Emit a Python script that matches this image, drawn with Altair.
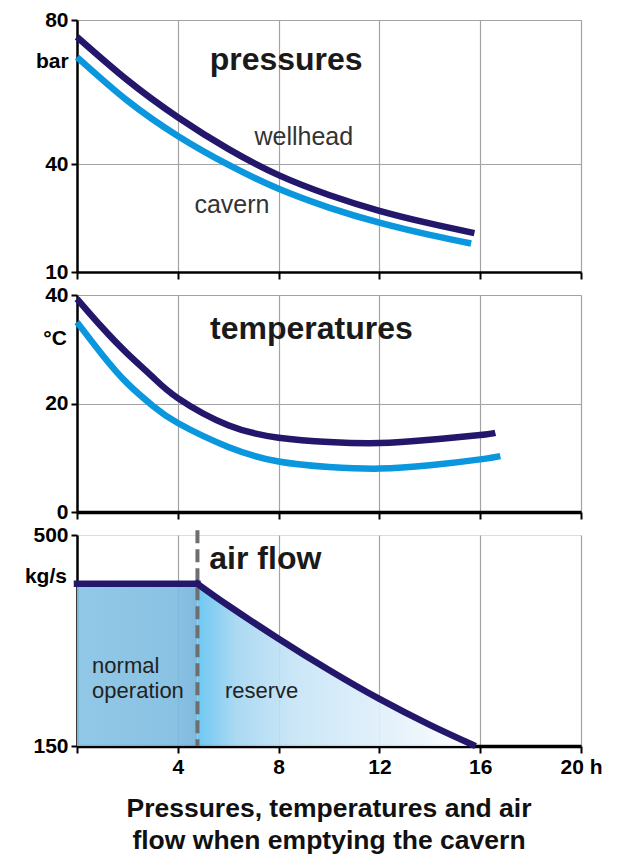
import altair as alt
import pandas as pd

FONT = "Liberation Sans"
DARK = "#23176b"
LIGHT = "#0b97dd"

# ---- pressures (bar) ----
p_hours_well = [0, 2, 4, 6, 8, 10, 12, 14, 15.77]
p_well = [75.3, 63.3, 53.0, 44.2, 36.9, 31.4, 27.0, 23.5, 20.8]
p_hours_cav = [0, 2, 4, 6, 8, 10, 12, 14, 15.64]
p_cav = [69.7, 57.6, 47.8, 39.8, 33.1, 27.9, 23.7, 20.3, 17.9]

# ---- temperatures (°C) ----
t_hours_well = [0, 1, 2, 3, 4, 6, 8, 10, 12, 14, 16, 16.6]
t_well = [39.3, 34.0, 29.2, 24.9, 21.0, 16.0, 13.7, 12.9, 12.7, 13.3, 14.2, 14.6]
t_hours_cav = [0, 1, 2, 3, 4, 6, 8, 10, 12, 14, 16, 16.8]
t_cav = [35.0, 29.0, 23.7, 19.6, 16.4, 12.0, 9.3, 8.3, 8.0, 8.6, 9.7, 10.3]

# ---- air flow (kg/s) ----
f_hours = [0, 4.78, 6, 8, 10, 12, 14, 15.7]
f_flow = [419, 419, 383, 328, 276, 228, 185, 152]
switch_hour = 4.78

x_ticks = [0, 4, 8, 12, 16, 20]
p_ticks = [10, 40, 80]
t_ticks = [0, 20, 40]
f_ticks = [150, 500]

caption = ["Pressures, temperatures and air", "flow when emptying the cavern"]

W = 504


def x_axis(labels, dw):
    return alt.Axis(values=x_ticks, labels=labels,
                    labelExpr="datum.value == 0 ? '' : (datum.value == 20 ? '20 h' : datum.label)",
                    labelFontSize=21, labelFontWeight="bold", labelColor="black", labelFont=FONT,
                    labelFlush=False, labelPadding=3, tickSize=7, tickWidth=2, tickColor="black",
                    domainColor="black", domainWidth=dw, grid=True, gridColor="#a3a3a3",
                    gridWidth=1.2, title=None)


def y_axis(vals, grid):
    return alt.Axis(values=vals, labelFontSize=21, labelFontWeight="bold", labelColor="black",
                    labelFont=FONT, labelPadding=3, tickSize=6, tickWidth=2, tickColor="black",
                    domainColor="black", domainWidth=2.5, grid=grid, gridColor="#a3a3a3",
                    gridWidth=1.2, title=None, minExtent=68, maxExtent=68)


xs = alt.Scale(domain=[0, 20], nice=False, zero=False)


def lines_df(h1, v1, h2, v2, n1, n2):
    return pd.DataFrame({"h": h1 + h2, "v": v1 + v2,
                         "s": [n1] * len(h1) + [n2] * len(h2)})


def text_layer(df, size, weight, color, align="center"):
    return alt.Chart(df).mark_text(fontSize=size, fontWeight=weight, color=color, font=FONT,
                                   align=align, baseline="middle").encode(
        x=alt.X("x:Q", scale=xs), y="y:Q", text="t:N")


# ---------- panel 1 ----------
ys1 = alt.Scale(domain=[10, 80], nice=False, zero=False)
d1 = lines_df(p_hours_well, p_well, p_hours_cav, p_cav, "wellhead", "cavern")
l1 = alt.Chart(d1).mark_line(strokeWidth=6.5, interpolate="natural", strokeCap="butt").encode(
    x=alt.X("h:Q", scale=xs, axis=x_axis(False, 2.5)),
    y=alt.Y("v:Q", scale=ys1, axis=y_axis(p_ticks, True)),
    color=alt.Color("s:N", scale=alt.Scale(domain=["wellhead", "cavern"], range=[DARK, LIGHT]),
                    legend=None))
t1a = text_layer(pd.DataFrame({"x": [8.3], "y": [68.9], "t": ["pressures"]}), 32, "bold", "#1a1a1a")
t1b = text_layer(pd.DataFrame({"x": [9.0, 6.15], "y": [47.5, 28.6], "t": ["wellhead", "cavern"]}),
                 25, "normal", "#333333")
t1c = text_layer(pd.DataFrame({"x": [-0.33], "y": [68.3], "t": ["bar"]}), 21, "bold", "black", "right")
panel1 = alt.layer(l1, t1a, t1b, t1c).properties(width=W, height=252)

# ---------- panel 2 ----------
ys2 = alt.Scale(domain=[0, 40], nice=False, zero=False)
d2 = lines_df(t_hours_well, t_well, t_hours_cav, t_cav, "wellhead", "cavern")
l2 = alt.Chart(d2).mark_line(strokeWidth=6.5, interpolate="natural", strokeCap="butt").encode(
    x=alt.X("h:Q", scale=xs, axis=x_axis(False, 3.5)),
    y=alt.Y("v:Q", scale=ys2, axis=y_axis(t_ticks, True)),
    color=alt.Color("s:N", scale=alt.Scale(domain=["wellhead", "cavern"], range=[DARK, LIGHT]),
                    legend=None))
t2a = text_layer(pd.DataFrame({"x": [9.3], "y": [33.7], "t": ["temperatures"]}), 32, "bold", "#1a1a1a")
t2c = text_layer(pd.DataFrame({"x": [-0.4], "y": [31.9], "t": ["°C"]}), 21, "bold", "black", "right")
panel2 = alt.layer(l2, t2a, t2c).properties(width=W, height=217)

# ---------- panel 3 ----------
ys3 = alt.Scale(domain=[150, 500], nice=False, zero=False)
n_norm = 2
df_norm = pd.DataFrame({"h": f_hours[:n_norm], "v": f_flow[:n_norm]})
df_res = pd.DataFrame({"h": f_hours[n_norm - 1:], "v": f_flow[n_norm - 1:]})
df_flow = pd.DataFrame({"h": f_hours[:n_norm] + f_hours[n_norm - 1:],
                        "v": f_flow[:n_norm] + f_flow[n_norm - 1:],
                        "s": ["normal"] * n_norm + ["reserve"] * (len(f_hours) - n_norm + 1)})

grad_norm = {"gradient": "linear", "x1": 0, "x2": 1, "y1": 0, "y2": 0,
             "stops": [{"offset": 0, "color": "#88c3e5"}, {"offset": 0.8, "color": "#80bde1"},
                       {"offset": 1, "color": "#74b3da"}]}
grad_res = {"gradient": "linear", "x1": 0, "x2": 1, "y1": 0, "y2": 0,
            "stops": [{"offset": 0, "color": "#62c3f0"}, {"offset": 0.14, "color": "#a4d6f2"},
                      {"offset": 0.35, "color": "#c6e4f6"}, {"offset": 0.75, "color": "#e6f2fb"},
                      {"offset": 1, "color": "#ffffff"}]}

a_norm = alt.Chart(df_norm).mark_area(color=grad_norm, opacity=0.92).encode(
    x=alt.X("h:Q", scale=xs, axis=x_axis(True, 3.5)),
    y=alt.Y("v:Q", scale=ys3, axis=y_axis(f_ticks, False)),
    y2=alt.datum(150))
a_res = alt.Chart(df_res).mark_area(color=grad_res, opacity=0.92, interpolate="natural").encode(
    x=alt.X("h:Q", scale=xs), y=alt.Y("v:Q", scale=ys3), y2=alt.datum(150))
l3 = alt.Chart(df_flow).mark_line(strokeWidth=6.5, color=DARK, interpolate="natural",
                                  strokeCap="square").encode(
    x=alt.X("h:Q", scale=xs), y=alt.Y("v:Q", scale=ys3), detail="s:N")
dash = alt.Chart(pd.DataFrame({"h": [switch_hour]})).mark_rule(
    color="#6e6e6e", strokeWidth=4, strokeDash=[13, 6]).encode(
    x=alt.X("h:Q", scale=xs), y=alt.datum(508), y2=alt.datum(150))
t3a = text_layer(pd.DataFrame({"x": [5.25], "y": [461], "t": ["air flow"]}), 32, "bold", "#1a1a1a", "left")
t3b = text_layer(pd.DataFrame({"x": [0.6, 0.6, 5.87], "y": [283, 241, 242],
                               "t": ["normal", "operation", "reserve"]}), 22, "normal", "#222222", "left")
t3c = text_layer(pd.DataFrame({"x": [-0.4], "y": [430], "t": ["kg/s"]}), 21, "bold", "black", "right")
panel3 = alt.layer(a_norm, a_res, dash, l3, t3a, t3b, t3c).properties(
    width=W, height=211,
    title=alt.TitleParams(text=caption, orient="bottom", anchor="middle", fontSize=26.5,
                          fontWeight="bold", font=FONT, color="#111111", lineHeight=32, offset=19))

chart = alt.vconcat(panel1, panel2, panel3, spacing=0).properties(
    padding={"left": 0, "top": 0, "right": 5, "bottom": 5}
).configure_view(stroke="#555555", strokeWidth=1.5).configure(background="white")

chart.save("out.html", embed_options={"renderer": "svg", "actions": False})
